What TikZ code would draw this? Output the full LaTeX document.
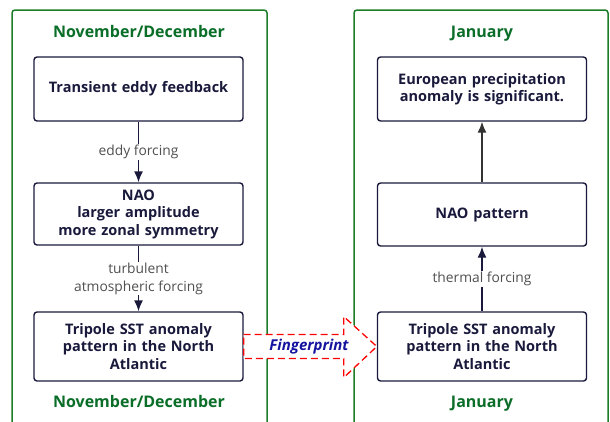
\documentclass[tikz,border=0pt]{standalone}
\usepackage{fontspec}
\setmainfont{Open Sans}
\usetikzlibrary{arrows.meta}
\definecolor{panelgreen}{RGB}{30,125,40}
\definecolor{titlegreen}{RGB}{10,110,40}
\definecolor{boxnavy}{RGB}{25,25,60}
\definecolor{labelgray}{RGB}{80,80,80}
\definecolor{fpblue}{RGB}{20,20,160}
\begin{document}
\begin{tikzpicture}[x=1pt,y=-1pt,
    panel/.style={draw=panelgreen,line width=1.5pt,rounded corners=3pt},
    season/.style={anchor=base,text=titlegreen,font=\fontsize{16}{19}\selectfont\bfseries},
    box/.style={draw=boxnavy,line width=1.4pt,rounded corners=3pt,fill=white,
      minimum width=209pt,text width=200pt,align=center,text=boxnavy,
      font=\fontsize{14.5}{17.5}\selectfont\bfseries},
    flow/.style={draw=boxnavy,line width=1.4pt,-{Latex[length=11pt,width=9pt]}},
    forcing/.style={fill=white,text=labelgray,align=center,inner sep=1pt,
      font=\fontsize{13.8}{18}\selectfont}]
  \useasboundingbox (0,0) rectangle (610,421);
  \clip (0,0) rectangle (610,421);
  \fill[white] (0,0) rectangle (610,421);
  \draw[panel] (12,440) -- (12,10) -- (267,10) -- (267,440);
  \draw[panel] (354,440) -- (354,10) -- (608,10) -- (608,440);
  \node[season] (ndTitle) at (139,37) {November/December};
  \node[season] (ndFoot) at (139,407) {November/December};
  \node[season] (janTitle) at (482,37) {January};
  \node[season] (janFoot) at (482,407) {January};
  \node[box,minimum height=64pt] (eddy) at (138.5,89) {Transient eddy feedback};
  \node[box,minimum height=62pt] (naoL) at (138.5,214) {NAO\\larger amplitude\\more zonal symmetry};
  \node[box,minimum height=69pt] (sstL) at (138.5,346.5) {Tripole SST anomaly\\pattern in the North\\Atlantic};
  \node[box,minimum height=64pt] (precip) at (482,89) {European precipitation\\anomaly is significant.};
  \node[box,minimum height=63pt] (naoR) at (482,214.5) {NAO pattern};
  \node[box,minimum height=69pt] (sstR) at (482,346.5) {Tripole SST anomaly\\pattern in the North\\Atlantic};
  \draw[flow] (eddy) -- (naoL) node[forcing,midway] {eddy forcing};
  \draw[flow] (naoL) -- (sstL) node[forcing,midway] {turbulent\\atmospheric forcing};
  \draw[flow] (sstR) -- (naoR) node[forcing,midway] {thermal forcing};
  \draw[flow,draw=black!80] (naoR) -- (precip);
  \draw[draw=red,fill=white,line width=1.3pt,dash pattern=on 7pt off 4pt]
    ([yshift=12pt]sstL.east) -- ++(100,0) -- ++(0,-18) -- (sstR.west)
    -- ++(-33,31) -- ++(0,-19) -- ([yshift=-12pt]sstL.east) -- cycle;
  \node[text=fpblue,font=\fontsize{15}{17}\selectfont\bfseries\itshape] (fp) at (309,346.5) {Fingerprint};
\end{tikzpicture}
\end{document}
